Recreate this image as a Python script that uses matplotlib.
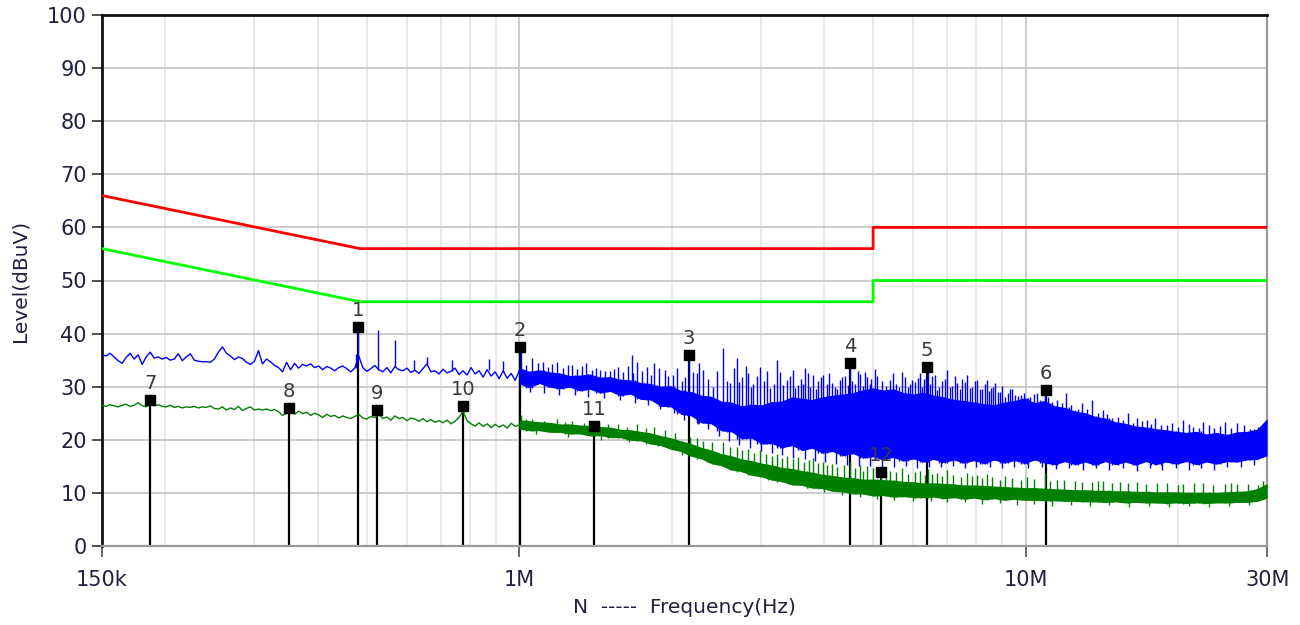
import numpy as np
import matplotlib
matplotlib.use('Agg')
import matplotlib.pyplot as plt
from matplotlib.ticker import FixedLocator, LogLocator, NullFormatter

# limit lines (QP red, AV green), frequency in Hz
limit_f = [150e3, 485e3, 5e6, 5e6, 30e6]
limit_qp = [66, 56, 56, 60, 60]
limit_av = [56, 46, 46, 50, 50]

# peak trace (blue), 150k - 1M part read as a line
blue_line = [36.0, 35.8, 36.3, 35.6, 34.9, 34.4, 35.5, 36.3, 35.2, 36.0,
             34.2, 35.6, 36.5, 35.4, 35.6, 35.2, 35.5, 35.0, 35.2, 36.2,
             34.9, 35.6, 36.2, 35.0, 34.8, 34.7, 34.7, 34.6, 35.2, 36.5,
             37.5, 36.3, 35.8, 35.1, 35.6, 35.3, 34.6, 34.2, 34.8, 36.8,
             34.3, 35.2, 34.7, 34.0, 33.6, 32.8, 34.6, 33.2, 34.4, 33.5,
             34.2, 33.9, 34.3, 33.6, 33.9, 33.2, 33.8, 33.5, 33.0, 33.6,
             33.9, 33.4, 32.8, 33.5, 35.8, 33.6, 32.9, 33.4, 34.0, 33.2,
             32.8, 33.6, 32.6, 33.8, 33.2, 33.0, 33.5, 32.7, 33.1, 32.5,
             33.4, 34.3, 32.8, 33.0, 32.4, 33.3, 32.6, 32.9, 33.5, 32.3,
             33.0, 32.2, 33.6, 32.4, 33.0, 31.8, 33.2, 32.0, 32.8, 31.5,
             33.0, 31.6, 32.5, 31.2, 33.0]

# peak trace, 1M - 30M dense band (lower / upper edge)
blue_lo = [30.5, 29.8, 30.6, 29.9, 29.6, 29.9, 29.2, 29.5, 28.8, 29.1,
           28.3, 28.6, 27.6, 27.5, 26.3, 26.2, 24.8, 24.5, 23.2, 23.0,
           21.7, 21.5, 20.2, 20.3, 19.2, 19.3, 18.5, 18.9, 18.0, 18.4,
           17.5, 17.8, 17.0, 17.4, 16.6, 16.8, 16.2, 16.7, 16.0, 16.4,
           15.8, 16.3, 15.7, 16.2, 15.6, 16.1, 15.5, 16.2, 15.6, 16.1,
           15.5, 16.2, 15.6, 15.3, 15.9, 15.3, 15.8, 15.2, 15.9, 15.3,
           15.8, 15.2, 15.9, 15.3, 15.8, 15.4, 15.9, 15.3, 15.8, 15.4,
           15.9, 15.8, 16.2, 16.3, 17.0]
blue_hi = [33.6, 32.9, 33.2, 32.8, 32.6, 32.1, 32.2, 32.4, 31.8, 31.9,
           31.4, 31.3, 30.8, 30.6, 30.1, 30.2, 29.3, 29.1, 28.4, 28.2,
           27.3, 27.1, 26.4, 26.7, 26.6, 27.2, 27.3, 28.1, 27.8, 27.6,
           28.1, 28.4, 28.6, 28.9, 29.4, 29.8, 29.4, 29.6, 28.9, 28.6,
           29.0, 28.4, 28.1, 27.6, 27.4, 27.1, 26.8, 26.6, 27.1, 27.4,
           27.9, 27.0, 27.4, 26.4, 26.1, 25.4, 25.1, 24.4, 24.1, 23.4,
           23.1, 22.6, 22.4, 22.1, 21.9, 21.6, 21.4, 21.6, 21.1, 21.4,
           21.0, 21.5, 21.6, 22.0, 24.0]

# tall spikes of the peak trace (MHz, dBuV)
blue_spike_f = [0.477, 0.481, 0.526, 0.569, 0.620, 0.658, 0.735, 0.870, 0.93,
                1.01, 1.06, 1.115, 1.188, 1.272, 1.356, 1.445, 1.512, 1.568, 1.671,
                1.710, 1.789, 1.847, 1.942, 2.014, 2.098, 2.166, 2.246, 2.308, 2.415,
                2.527, 2.609, 2.694, 2.756, 2.833, 2.90, 2.991, 3.05, 3.130, 3.231,
                3.320, 3.381, 3.475, 3.555, 3.60, 3.670, 3.75, 3.806, 3.90, 3.983,
                4.05, 4.150, 4.25, 4.343, 4.40, 4.504, 4.60, 4.713, 4.865, 4.95,
                5.045, 5.20, 5.403, 5.55, 5.706, 5.85, 5.971, 6.05, 6.192, 6.30,
                6.421, 6.55, 6.690, 6.85, 7.001, 7.15, 7.326, 7.50, 7.666, 7.85,
                8.022, 8.20, 8.398, 8.55, 8.710, 8.90, 9.115, 9.30, 9.539, 9.80,
                10.07, 10.54, 10.93, 11.54, 12.03, 12.53, 12.94, 13.54, 14.23, 14.83,
                15.95, 16.61, 17.39, 18.03, 19.04, 20.48, 21.43, 22.43, 24.79, 26.18,
                28.80]
blue_spike_lv = [36.2, 41.3, 40.6, 38.8, 35.0, 35.6, 35.0, 35.3, 34.8,
                 37.8, 35.4, 34.7, 34.7, 34.1, 34.4, 33.1, 33.0, 33.7, 36.0,
                 34.7, 33.7, 34.4, 33.1, 32.2, 31.0, 36.3, 32.6, 33.1, 30.0,
                 37.3, 30.7, 35.4, 31.8, 32.6, 30.5, 33.8, 31.0, 29.7, 35.0,
                 30.3, 31.3, 33.1, 30.3, 31.5, 33.5, 30.0, 32.2, 31.0, 32.2,
                 30.5, 30.7, 29.5, 31.8, 32.0, 34.7, 30.5, 32.4, 31.8, 31.5,
                 33.3, 31.0, 31.3, 30.5, 32.8, 30.0, 31.3, 30.8, 32.6, 31.5,
                 34.1, 32.0, 29.4, 31.0, 33.1, 30.2, 30.7, 31.5, 32.2, 30.0,
                 31.3, 29.5, 31.3, 29.8, 30.7, 29.0, 28.1, 29.5, 28.4, 28.5,
                 27.8, 28.8, 29.7, 27.5, 28.8, 25.6, 26.9, 27.5, 25.6, 24.1,
                 25.0, 24.1, 23.7, 24.1, 22.8, 23.7, 22.4, 23.4, 23.4, 23.1,
                 22.4]

# shorter spikes of the peak trace
blue_fine_f = [1.03, 1.09, 1.14, 1.16, 1.22, 1.25, 1.30, 1.33, 1.39, 1.42,
               1.48, 1.54, 1.60, 1.64, 1.68, 1.75, 1.82, 1.89, 1.97, 2.05,
               2.13, 2.20, 2.27, 2.36, 2.46, 2.57, 2.65, 2.72, 2.80, 2.87,
               2.95, 3.09, 3.18, 3.28, 3.43, 3.51, 3.64, 3.72, 3.86, 3.94,
               4.10, 4.20, 4.30, 4.46, 4.55, 4.66, 4.78, 4.82, 4.92, 5.10,
               5.30, 5.48, 5.63, 5.78, 5.92, 6.12, 6.25, 6.36, 6.48, 6.62,
               6.76, 6.93, 7.08, 7.24, 7.42, 7.58, 7.76, 7.94, 8.12, 8.30,
               8.48, 8.64, 8.82, 9.00, 9.22, 9.42, 9.65, 9.92, 10.2, 10.4,
               10.7, 11.1, 11.3, 11.8, 12.3, 12.7, 13.2, 13.9, 14.5, 15.2,
               15.6, 16.3, 17.0, 17.7, 18.5, 19.5, 20.0, 21.0, 22.0, 23.0,
               23.6, 24.2, 25.4, 27.0, 27.8, 29.5]
blue_fine_lv = [34.0, 34.5, 33.8, 34.2, 33.6, 34.0, 33.4, 33.9, 33.2, 33.6,
                32.9, 33.4, 32.8, 33.9, 32.5, 33.0, 32.2, 33.6, 32.0, 33.5,
                31.8, 32.8, 34.5, 31.5, 32.9, 31.0, 33.5, 30.8, 33.9, 30.0,
                32.0, 33.0, 30.5, 32.7, 32.0, 29.8, 30.6, 32.6, 29.5, 31.8,
                32.5, 30.0, 31.2, 30.3, 31.0, 33.0, 30.2, 32.8, 30.5, 32.0,
                30.2, 32.5, 30.0, 31.8, 30.5, 31.6, 30.0, 31.9, 30.6, 32.2,
                30.0, 31.5, 30.0, 32.0, 29.6, 30.8, 29.8, 31.0, 29.6, 30.5,
                29.2, 30.0, 29.0, 30.2, 28.8, 29.5, 28.2, 28.8, 28.0, 28.6,
                27.5, 28.0, 27.2, 27.0, 26.5, 25.8, 25.8, 25.0, 24.8, 24.3,
                23.8, 23.2, 23.6, 23.0, 22.8, 23.2, 22.5, 23.0, 22.2, 22.8,
                22.3, 22.6, 22.2, 22.8, 22.0, 23.0]

# dips below the peak band
blue_dip_f = [1.05, 1.12, 1.20, 1.29, 1.37, 1.47, 1.58, 1.69, 1.80, 1.90,
              2.02, 2.12, 2.25, 2.36, 2.48, 2.60, 2.72, 2.86, 3.00, 3.15,
              3.30, 3.48, 3.66, 3.84, 4.02, 4.22, 4.45, 4.68, 4.92, 5.20,
              5.50, 5.80, 6.10, 6.45, 6.80, 7.20, 7.60, 8.00, 8.50, 9.00,
              9.50, 10.1, 10.8, 11.5, 12.2, 13.0, 13.8, 14.6, 15.6, 16.6,
              17.6, 18.6, 19.8, 21.0, 22.2, 23.6, 25.0, 26.6, 28.2]
blue_dip_lv = [29.0, 28.8, 28.5, 28.4, 28.0, 27.8, 27.5, 27.0, 26.5, 25.8,
               25.0, 23.8, 23.0, 22.0, 20.8, 19.8, 19.0, 18.5, 17.8, 17.5,
               17.2, 16.6, 16.4, 16.0, 15.8, 15.5, 15.2, 15.0, 15.0, 14.8,
               14.9, 15.0, 14.7, 14.9, 14.8, 15.0, 14.6, 14.8, 14.9, 14.6,
               14.8, 14.7, 14.9, 14.5, 14.6, 14.3, 14.7, 14.4, 14.6, 14.2,
               14.6, 14.4, 14.6, 14.3, 14.7, 14.4, 14.8, 14.9, 15.2]

# average trace (green)
green_line = [26.5, 26.3, 26.6, 26.4, 26.2, 26.5, 26.7, 26.3, 26.5, 27.0,
              26.4, 26.2, 26.9, 26.4, 26.6, 26.3, 26.2, 26.5, 26.1, 26.3,
              26.0, 26.2, 26.1, 26.3, 26.0, 26.2, 26.1, 26.4, 25.9, 25.8,
              26.2, 25.6, 26.0, 25.7, 26.3, 25.5, 25.9, 26.2, 25.6, 25.8,
              25.6, 25.8, 25.5, 25.7, 25.3, 24.6, 25.0, 25.9, 24.8, 25.4,
              24.9, 25.2, 24.6, 25.0, 24.7, 24.2, 24.8, 24.4, 24.6, 24.1,
              24.5, 24.2, 24.0, 24.4, 24.8, 24.1, 23.9, 24.4, 24.2, 24.8,
              24.0, 24.3, 23.7, 24.5, 24.0, 24.2, 23.6, 24.1, 23.9, 23.5,
              24.0, 23.4, 23.8, 23.3, 23.6, 23.2, 23.7, 23.0, 23.5, 24.2,
              25.4, 23.6, 23.0, 22.6, 23.2, 22.5, 23.0, 22.3, 22.9, 22.4,
              22.8, 22.2, 23.1, 22.5, 22.8]
green_lo = [22.0, 21.7, 21.7, 21.4, 21.4, 21.1, 21.1, 20.7, 20.8, 20.4,
            20.4, 19.9, 19.8, 19.2, 18.9, 18.2, 17.8, 16.9, 16.4, 15.5,
            15.1, 14.3, 14.0, 13.3, 13.0, 12.4, 12.1, 11.5, 11.4, 10.9,
            10.8, 10.3, 10.2, 9.8, 9.8, 9.4, 9.5, 9.2, 9.3, 9.1,
            9.1, 9.2, 8.9, 9.1, 8.8, 9.0, 8.7, 8.9, 8.6, 8.8,
            8.6, 8.6, 8.5, 8.5, 8.4, 8.4, 8.3, 8.3, 8.2, 8.3,
            8.1, 8.2, 8.1, 8.1, 8.0, 8.1, 8.0, 8.1, 8.0, 8.1,
            8.1, 8.2, 8.2, 8.4, 9.0]
green_hi = [23.8, 23.6, 23.4, 23.3, 23.0, 23.0, 22.8, 22.7, 22.5, 22.4,
            22.0, 21.9, 21.6, 21.3, 20.8, 20.4, 19.8, 19.3, 18.6, 18.1,
            17.4, 17.0, 16.4, 16.1, 15.6, 15.3, 14.8, 14.6, 14.2, 13.9,
            13.5, 13.3, 13.0, 12.9, 12.6, 12.6, 12.5, 12.4, 12.2, 12.1,
            11.9, 11.9, 11.8, 11.7, 11.5, 11.5, 11.4, 11.3, 11.2, 11.1,
            11.0, 11.0, 10.9, 10.8, 10.7, 10.6, 10.6, 10.5, 10.5, 10.4,
            10.4, 10.3, 10.3, 10.2, 10.2, 10.2, 10.1, 10.1, 10.1, 10.1,
            10.2, 10.3, 10.4, 10.8, 11.8]
green_spike_f = [1.01, 1.06, 1.19, 1.27, 1.44, 1.57, 1.71, 1.85, 1.94, 2.17,
                 2.31, 2.53, 2.69, 2.83, 2.99, 3.23, 3.38, 3.56, 3.81, 3.98,
                 4.15, 4.50, 4.71, 4.87, 5.18, 5.40, 5.71, 6.19, 6.42, 6.69,
                 7.00, 7.67, 8.02, 8.40, 9.12, 10.07, 10.93, 11.54, 12.53, 13.54,
                 14.23, 15.95, 16.61, 19.04, 20.48, 22.43, 24.79, 26.18, 28.8,
                 1.03, 1.12, 1.23, 1.34, 1.50, 1.63, 1.78, 2.03, 2.24, 2.40,
                 2.61, 2.76, 2.91, 3.07, 3.15, 3.31, 3.47, 3.65, 3.73, 3.90,
                 4.06, 4.25, 4.38, 4.60, 4.78, 5.00, 5.30, 5.55, 5.85, 6.05,
                 6.32, 6.55, 6.85, 7.20, 7.45, 7.85, 8.20, 8.60, 8.90, 9.40,
                 9.80, 10.4, 11.2, 11.9, 12.9, 13.9, 14.8, 15.4, 17.3, 18.2,
                 20.0, 21.5, 23.5, 25.5, 27.5, 29.5]
green_spike_lv = [24.6, 24.0, 23.9, 23.6, 23.1, 22.9, 23.0, 22.4, 21.8, 20.6,
                  19.8, 19.6, 18.6, 18.3, 18.1, 17.4, 16.9, 16.8, 16.5, 15.9,
                  15.5, 15.9, 15.2, 15.0, 14.4, 14.2, 14.6, 14.2, 14.5, 13.8,
                  14.3, 13.8, 13.4, 13.5, 13.2, 13.0, 13.8, 12.4, 12.3, 12.0,
                  12.2, 11.9, 12.0, 11.8, 11.6, 11.8, 11.6, 11.7, 11.5,
                  23.9, 23.6, 23.4, 23.2, 23.0, 22.4, 22.3, 21.2, 20.3, 19.6,
                  18.7, 18.0, 17.5, 17.4, 16.9, 16.6, 16.3, 15.9, 16.2, 15.6,
                  15.2, 14.8, 15.3, 14.6, 14.2, 14.6, 13.9, 14.0, 13.6, 13.9,
                  13.3, 13.6, 13.1, 13.4, 13.0, 13.2, 12.8, 13.0, 12.5, 12.8,
                  12.4, 12.6, 12.2, 12.5, 12.0, 12.3, 11.8, 12.1, 11.6, 11.9,
                  11.5, 11.9, 11.4, 11.8, 11.6, 12.2]
green_dip_f = [1.08, 1.25, 1.45, 1.65, 1.88, 2.10, 2.35, 2.60, 2.85, 3.10,
               3.40, 3.70, 4.00, 4.35, 4.70, 5.10, 5.50, 6.00, 6.50, 7.00,
               7.60, 8.20, 8.90, 9.60, 10.4, 11.3, 12.3, 13.4, 14.6, 16.0,
               17.5, 19.2, 21.0, 23.0, 25.2, 27.6]
green_dip_lv = [21.0, 20.6, 20.0, 19.5, 18.8, 17.2, 15.8, 14.5, 13.3, 12.4,
                11.6, 10.9, 10.2, 9.6, 9.2, 8.9, 8.6, 8.4, 8.5, 8.2,
                8.3, 7.9, 8.1, 7.8, 7.9, 7.6, 7.8, 7.5, 7.7, 7.4,
                7.6, 7.3, 7.6, 7.3, 7.5, 7.7]

# final markers
marker_no = ['1', '2', '3', '4', '5', '6', '7', '8', '9', '10', '11', '12']
marker_f = [0.481, 1.004, 2.166, 4.504, 6.392, 10.98,
            0.1867, 0.3511, 0.524, 0.7746, 1.406, 5.183]
marker_lv = [41.2, 37.5, 36.0, 34.5, 33.7, 29.4,
             27.5, 26.0, 25.6, 26.4, 22.6, 13.9]

x_ticks = [150e3, 1e6, 10e6, 30e6]
x_labels = ['150k', '1M', '10M', '30M']

line_f = np.geomspace(150e3, 1e6, len(blue_line))
band_f = np.geomspace(1e6, 30e6, len(blue_lo))


def base_of(f, grid, vals):
    # level of the trace at the nearest grid point
    idx = np.abs(np.log(grid)[None, :] - np.log(f)[:, None]).argmin(axis=1)
    return np.asarray(vals)[idx]


def draw_trace(ax, line, lo, hi, spikes, dips, color):
    ax.plot(line_f, line, color=color, lw=1.0, zorder=3)
    ax.fill_between(band_f, lo, hi, color=color, lw=0, zorder=3)
    grid = np.concatenate([line_f, band_f])
    base = np.concatenate([line, lo])
    for sf, slv in spikes:
        sf = np.array(sf) * 1e6
        ax.vlines(sf, base_of(sf, grid, base), slv, color=color, lw=1.0, zorder=3)
    for df, dlv in dips:
        df = np.array(df) * 1e6
        ax.vlines(df, dlv, base_of(df, band_f, hi), color=color, lw=1.0, zorder=3)


plt.rcParams['font.family'] = ['DejaVu Sans']

fig = plt.figure(figsize=(13, 6.25), dpi=100)
ax = fig.add_axes([0.0785, 0.1264, 0.8962, 0.8496])

# marker stems (under traces)
mf = np.array(marker_f) * 1e6
ax.vlines(mf, 0, marker_lv, color='black', lw=1.6, zorder=2)

draw_trace(ax, blue_line, blue_lo, blue_hi,
           [(blue_spike_f, blue_spike_lv), (blue_fine_f, blue_fine_lv)],
           [(blue_dip_f, blue_dip_lv)], '#0000ff')
draw_trace(ax, green_line, green_lo, green_hi,
           [(green_spike_f, green_spike_lv)],
           [(green_dip_f, green_dip_lv)], '#008000')

# limits
ax.plot(limit_f, limit_qp, color='#ff0000', lw=2.0, zorder=4)
ax.plot(limit_f, limit_av, color='#00ff00', lw=2.0, zorder=4)

# marker squares and numbers
ax.plot(mf, marker_lv, 's', color='black', ms=6.5, zorder=5)
for n, f, lv in zip(marker_no, mf, marker_lv):
    ax.annotate(n, (f, lv), xytext=(0, 5), textcoords='offset points',
                ha='center', va='bottom', fontsize=14, color='#3a3a3a', zorder=6)

ax.set_xscale('log')
ax.set_xlim(150e3, 30e6)
ax.set_ylim(0, 100)
ax.xaxis.set_major_locator(FixedLocator(x_ticks))
ax.set_xticklabels(x_labels)
ax.xaxis.set_minor_locator(LogLocator(base=10, subs=np.arange(2, 10)))
ax.xaxis.set_minor_formatter(NullFormatter())
ax.set_yticks(np.arange(0, 101, 10))

ax.grid(which='major', color='#c4c4c4', lw=1.2, zorder=0)
ax.grid(which='minor', axis='x', color='#e4e4e4', lw=1.2, zorder=0)
ax.set_axisbelow(True)

ax.tick_params(axis='y', which='major', length=7, width=1.2, pad=4,
               color='#303030', labelsize=15, labelcolor='#202040')
ax.tick_params(axis='x', which='major', length=8, width=1.2, pad=9,
               color='#505050', labelsize=15, labelcolor='#202040')
ax.tick_params(axis='x', which='minor', length=0)

for side in ['left', 'top']:
    ax.spines[side].set_color('#111111')
    ax.spines[side].set_linewidth(2.0)
for side in ['right', 'bottom']:
    ax.spines[side].set_color('#9a9a9a')
    ax.spines[side].set_linewidth(1.6)

ax.set_ylabel('Level(dBuV)', fontsize=14.5, color='#202040')
ax.yaxis.set_label_coords(-0.062, 0.5)
ax.set_xlabel('N  -----  Frequency(Hz)', fontsize=14.5, color='#202040')
ax.xaxis.set_label_coords(0.5, -0.098)

fig.savefig('out.png', dpi=100)
